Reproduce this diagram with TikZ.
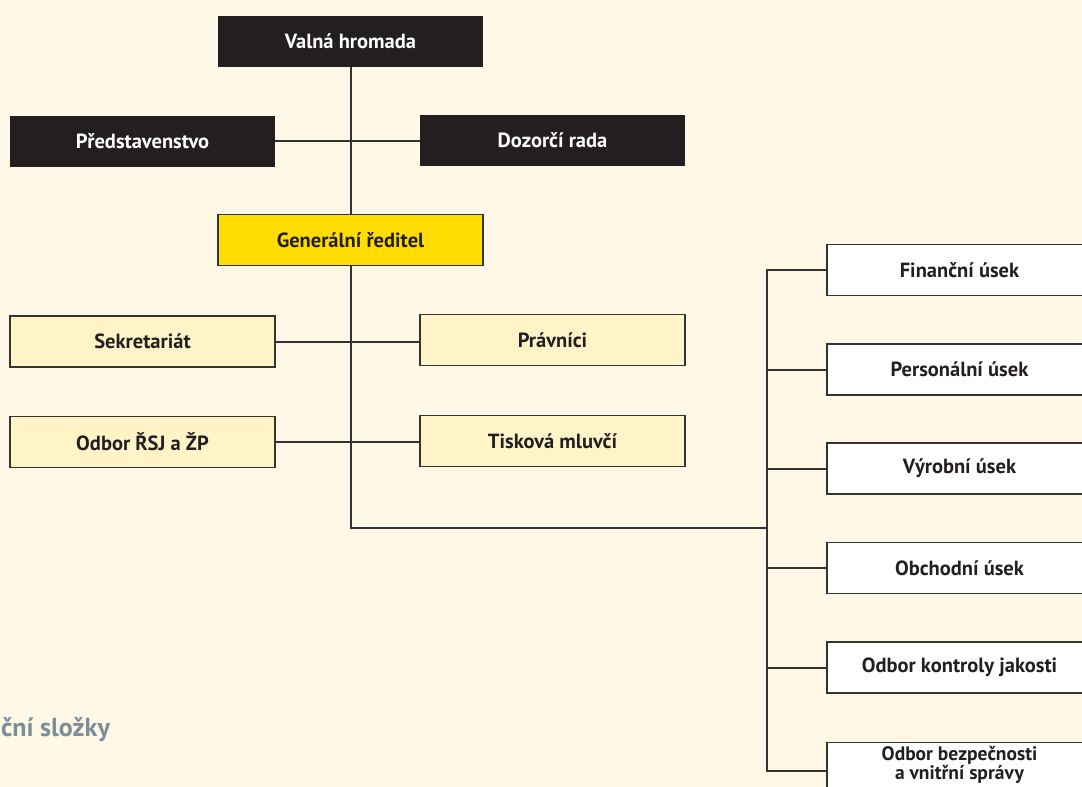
\documentclass[tikz,border=0pt]{standalone}
\usepackage{fontspec}
\setmainfont{PT Sans}
\definecolor{bg}{HTML}{FFF8E6}
\definecolor{dark}{HTML}{231F20}
\definecolor{ink}{HTML}{333333}
\definecolor{pale}{HTML}{FFF3C8}
\definecolor{gold}{HTML}{FFDD00}
\definecolor{slate}{HTML}{7B8F9B}
\tikzset{
  box/.style={rectangle, minimum width=265pt, minimum height=51pt, inner sep=0pt,
    font=\fontsize{20.5}{19}\selectfont\bfseries, align=center},
  darkbox/.style={box, fill=dark, text=white},
  goldbox/.style={box, fill=gold, draw=ink, line width=1.8pt, text=dark},
  palebox/.style={box, fill=pale, draw=ink, line width=1.8pt, text=dark},
  whitebox/.style={box, fill=white, draw=ink, line width=1.8pt, text=dark},
  conn/.style={draw=ink, line width=2pt}
}
\begin{document}
\begin{tikzpicture}[x=1pt,y=-1pt]
\useasboundingbox (0,0) rectangle (1082,787);
\fill[bg] (0,0) rectangle (1082,787);
\clip (0,0) rectangle (1082,787);
\coordinate (bus) at (767,528);
\node[darkbox] (valna) at (350.5,41) {Valná hromada};
\node[darkbox] (pred) at (142.5,141) {Představenstvo};
\node[darkbox] (dozor) at (552.5,140) {Dozorčí rada};
\node[goldbox] (gen) at (350.5,240) {Generální ředitel};
\node[palebox] (sekr) at (142.5,341.5) {Sekretariát};
\node[palebox] (prav) at (552.5,340) {Právníci};
\node[palebox] (rsj) at (142.5,442) {Odbor ŘSJ a ŽP};
\node[palebox] (tisk) at (552.5,441) {Tisková mluvčí};
\node[whitebox] (fin) at (959.5,270) {Finanční úsek};
\node[whitebox] (pers) at (959.5,369.5) {Personální úsek};
\node[whitebox] (vyr) at (959.5,468.5) {Výrobní úsek};
\node[whitebox] (obch) at (959.5,568) {Obchodní úsek};
\node[whitebox] (kont) at (959.5,667.5) {Odbor kontroly jakosti};
\node[whitebox, minimum height=46pt, anchor=north] (bezp) at (959.5,741.5) {};
\node[font=\fontsize{19.5}{17.5}\selectfont\bfseries, text=dark, align=center, inner sep=0pt] (bezpt) at (959.5,765) {Odbor bezpečnosti\\a vnitřní správy};
\path[conn] (valna.south) -- (gen.north);
\path[conn] (pred.east) -- (pred.east -| dozor.west);
\path[conn] (gen.south) |- (bus);
\path[conn] (sekr.east) -- (sekr.east -| prav.west);
\path[conn] (rsj.east) -- (rsj.east -| tisk.west);
\path[conn] (bus) |- (fin.west);
\path[conn] (bus) |- (bezp.west |- 0,771);
\path[conn] (bus |- pers.west) -- (pers.west);
\path[conn] (bus |- vyr.west) -- (vyr.west);
\path[conn] (bus |- obch.west) -- (obch.west);
\path[conn] (bus |- kont.west) -- (kont.west);
\node[anchor=base west, text=slate, font=\fontsize{26}{30}\selectfont\bfseries, inner sep=0pt] (slozky) at (1,736) {ční složky};
\end{tikzpicture}
\end{document}
